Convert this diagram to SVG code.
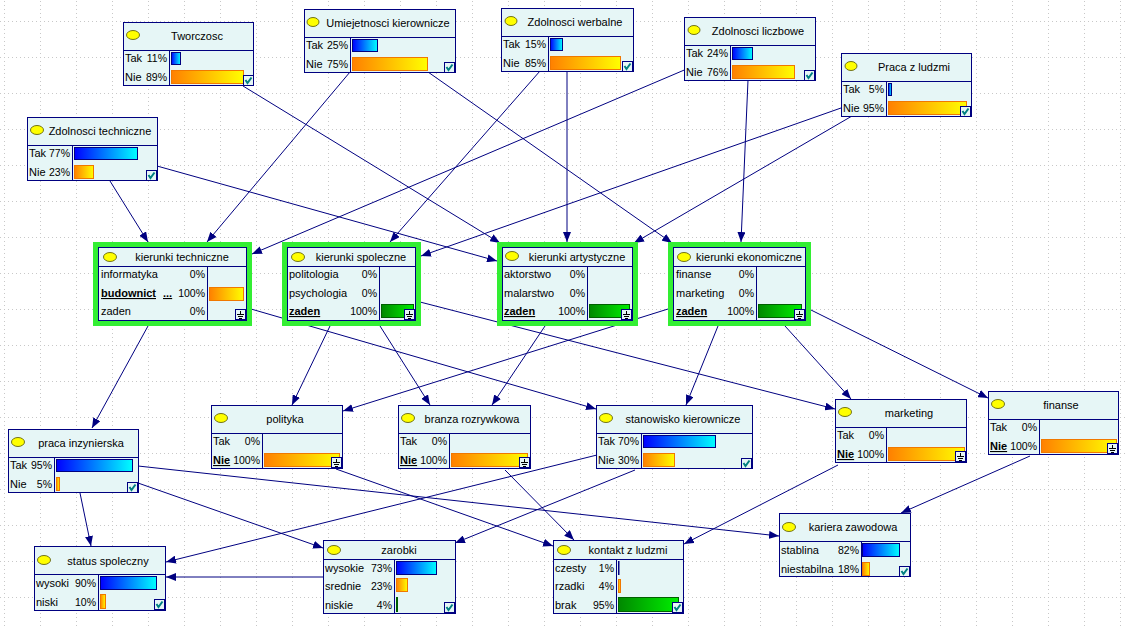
<svg xmlns="http://www.w3.org/2000/svg" width="1126" height="627" viewBox="0 0 1126 627">
<defs>
<style>
.box{fill:#E6F6F6;stroke:#000080;stroke-width:1}
.sep{stroke:#000080;stroke-width:1;fill:none}
.t{font-family:"Liberation Sans",Arial,sans-serif;font-size:11px;fill:#000}
.m{text-anchor:middle}
.r{text-anchor:end;font-size:10.5px}
.u{font-weight:bold;text-decoration:underline}
.hl{fill:none;stroke:#33EE33;stroke-width:5}
.el{fill:#FFFF00;stroke:#505000;stroke-width:0.8}
.bb{fill:url(#gb);stroke:#000080;stroke-width:1}
.bo{fill:url(#go);stroke:#F07800;stroke-width:1}
.bg{fill:url(#gg);stroke:#006000;stroke-width:1}
.ic{fill:#E6F6F6;stroke:#000080;stroke-width:1}
.ck{fill:none;stroke:#008080;stroke-width:2}
.gd{stroke:#000;stroke-width:1;fill:none}
.ln{stroke:#000080;stroke-width:1;fill:none;marker-end:url(#arr)}
</style>
<linearGradient id="gb" x1="0" y1="0" x2="1" y2="0"><stop offset="0" stop-color="#0000FF"/><stop offset="1" stop-color="#00FFFF"/></linearGradient>
<linearGradient id="go" x1="0" y1="0" x2="1" y2="0"><stop offset="0" stop-color="#FF8000"/><stop offset="1" stop-color="#FFFF00"/></linearGradient>
<linearGradient id="gg" x1="0" y1="0" x2="1" y2="0"><stop offset="0" stop-color="#008800"/><stop offset="1" stop-color="#00F000"/></linearGradient>
<marker id="arr" viewBox="0 0 10 8" refX="10" refY="4" markerWidth="10" markerHeight="8" orient="auto" markerUnits="userSpaceOnUse"><path d="M0,0 L10,4 L0,8 z" fill="#000080"/></marker>
<pattern id="grid" x="4" y="21" width="36" height="36" patternUnits="userSpaceOnUse"><path d="M0.5 0 V36 M0 0.5 H36" stroke="#C8C8C8" stroke-width="1" stroke-dasharray="1,3" fill="none"/></pattern>
<g id="chk"><rect class="ic" x="0.5" y="0.5" width="10" height="10"/><path class="ck" d="M2.5,5 L4.5,8 L8.5,2.5"/></g>
<g id="gnd"><rect class="ic" x="0.5" y="0.5" width="10" height="10"/><path class="gd" d="M5.5,2 V5 M2,5.5 H9 M3,7.5 H8 M4,9.5 H7"/></g>
</defs>
<rect width="1126" height="627" fill="#FFFFFF"/>
<rect width="1126" height="627" fill="url(#grid)"/>

<g id="connectors">
<line class="ln" x1="110" y1="181" x2="148" y2="242"/>
<line class="ln" x1="157" y1="166" x2="497" y2="261"/>
<line class="ln" x1="243" y1="86" x2="500" y2="243"/>
<line class="ln" x1="350" y1="72" x2="207" y2="242"/>
<line class="ln" x1="428" y1="72" x2="672" y2="243"/>
<line class="ln" x1="540" y1="71" x2="390" y2="242"/>
<line class="ln" x1="567" y1="71" x2="567" y2="242"/>
<line class="ln" x1="689" y1="68" x2="252" y2="254"/>
<line class="ln" x1="748" y1="80" x2="741" y2="242"/>
<line class="ln" x1="841" y1="108" x2="421" y2="256"/>
<line class="ln" x1="852" y1="116" x2="634" y2="243"/>
<line class="ln" x1="148" y1="326" x2="92" y2="428"/>
<line class="ln" x1="251" y1="309" x2="596" y2="409"/>
<line class="ln" x1="330" y1="326" x2="292" y2="405"/>
<line class="ln" x1="380" y1="326" x2="430" y2="405"/>
<line class="ln" x1="420" y1="302" x2="835" y2="409"/>
<line class="ln" x1="545" y1="326" x2="492" y2="405"/>
<line class="ln" x1="668" y1="309" x2="343" y2="411"/>
<line class="ln" x1="718" y1="326" x2="686" y2="405"/>
<line class="ln" x1="785" y1="326" x2="851" y2="399"/>
<line class="ln" x1="811" y1="310" x2="988" y2="398"/>
<line class="ln" x1="80" y1="493" x2="91" y2="546"/>
<line class="ln" x1="138" y1="466" x2="779" y2="536"/>
<line class="ln" x1="138" y1="483" x2="323" y2="548"/>
<line class="ln" x1="336" y1="469" x2="553" y2="546"/>
<line class="ln" x1="505" y1="470" x2="574" y2="540"/>
<line class="ln" x1="597" y1="455" x2="166" y2="562"/>
<line class="ln" x1="635" y1="470" x2="455" y2="543"/>
<line class="ln" x1="838" y1="465" x2="684" y2="544"/>
<line class="ln" x1="1030" y1="456" x2="901" y2="513"/>
<line class="ln" x1="323" y1="577" x2="166" y2="577"/>
</g>

<!-- Tworczosc -->
<g id="n-tworczosc">
<rect class="box" x="123.5" y="22.5" width="130" height="63"/>
<path class="sep" d="M123.5,50.5 H253.5 M169.5,50.5 V85.5"/>
<ellipse class="el" cx="133" cy="35" rx="6.5" ry="4.5"/>
<text class="t m" x="197" y="40">Tworczosc</text>
<text class="t" x="125" y="62">Tak</text><text class="t r" x="167" y="62">11%</text>
<text class="t" x="125" y="81">Nie</text><text class="t r" x="167" y="81">89%</text>
<rect class="bb" x="171.5" y="52.5" width="9" height="12"/>
<rect class="bo" x="171.5" y="70.5" width="72" height="13"/>
<use href="#chk" x="243" y="75"/>
</g>

<!-- Umiejetnosci kierownicze -->
<g id="n-umiejetnosci">
<rect class="box" x="304.5" y="9.5" width="151" height="63"/>
<path class="sep" d="M304.5,37.5 H455.5 M350.5,37.5 V72.5"/>
<ellipse class="el" cx="313" cy="22" rx="6" ry="4.5"/>
<text class="t m" x="388" y="27">Umiejetnosci kierownicze</text>
<text class="t" x="306" y="49">Tak</text><text class="t r" x="348" y="49">25%</text>
<text class="t" x="306" y="68">Nie</text><text class="t r" x="348" y="68">75%</text>
<rect class="bb" x="352.5" y="39.5" width="25" height="12"/>
<rect class="bo" x="352.5" y="57.5" width="75" height="13"/>
<use href="#chk" x="444" y="62"/>
</g>

<!-- Zdolnosci werbalne -->
<g id="n-werbalne">
<rect class="box" x="501.5" y="8.5" width="132" height="63"/>
<path class="sep" d="M501.5,36.5 H633.5 M548.5,36.5 V71.5"/>
<ellipse class="el" cx="511" cy="21" rx="6" ry="4.5"/>
<text class="t m" x="575" y="26">Zdolnosci werbalne</text>
<text class="t" x="503" y="48">Tak</text><text class="t r" x="546" y="48">15%</text>
<text class="t" x="503" y="67">Nie</text><text class="t r" x="546" y="67">85%</text>
<rect class="bb" x="550.5" y="38.5" width="12" height="12"/>
<rect class="bo" x="550.5" y="56.5" width="70" height="13"/>
<use href="#chk" x="622" y="61"/>
</g>

<!-- Zdolnosci liczbowe -->
<g id="n-liczbowe">
<rect class="box" x="684.5" y="17.5" width="131" height="63"/>
<path class="sep" d="M684.5,45.5 H815.5 M730.5,45.5 V80.5"/>
<ellipse class="el" cx="694" cy="30" rx="6" ry="4.5"/>
<text class="t m" x="758" y="35">Zdolnosci liczbowe</text>
<text class="t" x="686" y="57">Tak</text><text class="t r" x="728" y="57">24%</text>
<text class="t" x="686" y="76">Nie</text><text class="t r" x="728" y="76">76%</text>
<rect class="bb" x="732.5" y="47.5" width="20" height="12"/>
<rect class="bo" x="732.5" y="65.5" width="62" height="13"/>
<use href="#chk" x="804" y="70"/>
</g>

<!-- Praca z ludzmi -->
<g id="n-praca-z-ludzmi">
<rect class="box" x="841.5" y="53.5" width="130" height="63"/>
<path class="sep" d="M841.5,81.5 H971.5 M886.5,81.5 V116.5"/>
<ellipse class="el" cx="851" cy="66" rx="6" ry="4.5"/>
<text class="t m" x="914" y="71">Praca z ludzmi</text>
<text class="t" x="843" y="93">Tak</text><text class="t r" x="884" y="93">5%</text>
<text class="t" x="843" y="112">Nie</text><text class="t r" x="884" y="112">95%</text>
<rect class="bb" x="888.5" y="83.5" width="3" height="12"/>
<rect class="bo" x="888.5" y="101.5" width="78" height="13"/>
<use href="#chk" x="960" y="106"/>
</g>

<!-- Zdolnosci techniczne -->
<g id="n-zdolnosci-techniczne">
<rect class="box" x="27.5" y="117.5" width="130" height="63"/>
<path class="sep" d="M27.5,145.5 H157.5 M72.5,145.5 V180.5"/>
<ellipse class="el" cx="37" cy="130" rx="6.5" ry="4.5"/>
<text class="t m" x="100" y="135">Zdolnosci techniczne</text>
<text class="t" x="29" y="157">Tak</text><text class="t r" x="70" y="157">77%</text>
<text class="t" x="29" y="176">Nie</text><text class="t r" x="70" y="176">23%</text>
<rect class="bb" x="74.5" y="147.5" width="63" height="12"/>
<rect class="bo" x="74.5" y="165.5" width="19" height="13"/>
<use href="#chk" x="146" y="170"/>
</g>

<!-- kierunki techniczne -->
<g id="n-kierunki-techniczne">
<rect class="hl" x="95.5" y="244.5" width="154" height="79"/>
<rect class="box" x="98.5" y="247.5" width="148" height="73"/>
<path class="sep" d="M98.5,266.5 H246.5 M207.5,266.5 V320.5"/>
<ellipse class="el" cx="110" cy="257" rx="6.5" ry="4.5"/>
<text class="t m" x="182" y="261">kierunki techniczne</text>
<text class="t" x="101" y="278">informatyka</text><text class="t r" x="205" y="278">0%</text>
<text class="t u" x="101" y="297">budownict</text><text class="t u" x="163" y="297">...</text><text class="t r" x="205" y="297">100%</text>
<text class="t" x="101" y="315">zaden</text><text class="t r" x="205" y="315">0%</text>
<rect class="bo" x="209.5" y="287.5" width="34" height="13"/>
<use href="#gnd" x="235" y="309"/>
</g>

<!-- kierunki spoleczne -->
<g id="n-kierunki-spoleczne">
<rect class="hl" x="284.5" y="244.5" width="134" height="79"/>
<rect class="box" x="287.5" y="247.5" width="128" height="73"/>
<path class="sep" d="M287.5,266.5 H415.5 M379.5,266.5 V320.5"/>
<ellipse class="el" cx="298" cy="257" rx="6.5" ry="4.5"/>
<text class="t m" x="361" y="261">kierunki spoleczne</text>
<text class="t" x="289" y="278">politologia</text><text class="t r" x="377" y="278">0%</text>
<text class="t" x="289" y="297">psychologia</text><text class="t r" x="377" y="297">0%</text>
<text class="t u" x="289" y="315">zaden</text><text class="t r" x="377" y="315">100%</text>
<rect class="bg" x="381.5" y="304.5" width="32" height="13"/>
<use href="#gnd" x="404" y="309"/>
</g>

<!-- kierunki artystyczne -->
<g id="n-kierunki-artystyczne">
<rect class="hl" x="499.5" y="244.5" width="136" height="79"/>
<rect class="box" x="502.5" y="247.5" width="130" height="73"/>
<path class="sep" d="M502.5,266.5 H632.5 M587.5,266.5 V320.5"/>
<ellipse class="el" cx="512" cy="256" rx="6.5" ry="4.5"/>
<text class="t m" x="577" y="261">kierunki artystyczne</text>
<text class="t" x="504" y="278">aktorstwo</text><text class="t r" x="585" y="278">0%</text>
<text class="t" x="504" y="297">malarstwo</text><text class="t r" x="585" y="297">0%</text>
<text class="t u" x="504" y="315">zaden</text><text class="t r" x="585" y="315">100%</text>
<rect class="bg" x="589.5" y="304.5" width="40" height="13"/>
<use href="#gnd" x="621" y="309"/>
</g>

<!-- kierunki ekonomiczne -->
<g id="n-kierunki-ekonomiczne">
<rect class="hl" x="670.5" y="244.5" width="138" height="79"/>
<rect class="box" x="673.5" y="247.5" width="132" height="73"/>
<path class="sep" d="M673.5,266.5 H805.5 M756.5,266.5 V320.5"/>
<ellipse class="el" cx="684" cy="257" rx="6.5" ry="4.5"/>
<text class="t m" x="749" y="261">kierunki ekonomiczne</text>
<text class="t" x="676" y="278">finanse</text><text class="t r" x="754" y="278">0%</text>
<text class="t" x="676" y="297">marketing</text><text class="t r" x="754" y="297">0%</text>
<text class="t u" x="676" y="315">zaden</text><text class="t r" x="754" y="315">100%</text>
<rect class="bg" x="758.5" y="304.5" width="43" height="13"/>
<use href="#gnd" x="794" y="309"/>
</g>

<!-- praca inzynierska -->
<g id="n-praca-inzynierska">
<rect class="box" x="8.5" y="429.5" width="130" height="63"/>
<path class="sep" d="M8.5,457.5 H138.5 M54.5,457.5 V492.5"/>
<ellipse class="el" cx="18" cy="442" rx="6.5" ry="4.5"/>
<text class="t m" x="81" y="447">praca inzynierska</text>
<text class="t" x="10" y="469">Tak</text><text class="t r" x="52" y="469">95%</text>
<text class="t" x="10" y="488">Nie</text><text class="t r" x="52" y="488">5%</text>
<rect class="bb" x="56.5" y="459.5" width="76" height="12"/>
<rect class="bo" x="56.5" y="477.5" width="3" height="13"/>
<use href="#chk" x="127" y="482"/>
</g>

<!-- polityka -->
<g id="n-polityka">
<rect class="box" x="211.5" y="405.5" width="131" height="63"/>
<path class="sep" d="M211.5,433.5 H342.5 M262.5,433.5 V468.5"/>
<ellipse class="el" cx="221" cy="418" rx="6.5" ry="4.5"/>
<text class="t m" x="285" y="423">polityka</text>
<text class="t" x="213" y="445">Tak</text><text class="t r" x="260" y="445">0%</text>
<text class="t u" x="213" y="464">Nie</text><text class="t r" x="260" y="464">100%</text>
<rect class="bo" x="264.5" y="453.5" width="75" height="13"/>
<use href="#gnd" x="331" y="457"/>
</g>

<!-- branza rozrywkowa -->
<g id="n-branza">
<rect class="box" x="398.5" y="405.5" width="132" height="63"/>
<path class="sep" d="M398.5,433.5 H530.5 M449.5,433.5 V468.5"/>
<ellipse class="el" cx="408" cy="418" rx="6.5" ry="4.5"/>
<text class="t m" x="472" y="423">branza rozrywkowa</text>
<text class="t" x="400" y="445">Tak</text><text class="t r" x="447" y="445">0%</text>
<text class="t u" x="400" y="464">Nie</text><text class="t r" x="447" y="464">100%</text>
<rect class="bo" x="451.5" y="453.5" width="76" height="13"/>
<use href="#gnd" x="519" y="457"/>
</g>

<!-- stanowisko kierownicze -->
<g id="n-stanowisko">
<rect class="box" x="596.5" y="405.5" width="156" height="63"/>
<path class="sep" d="M596.5,433.5 H752.5 M641.5,433.5 V468.5"/>
<ellipse class="el" cx="606" cy="418" rx="6.5" ry="4.5"/>
<text class="t m" x="683" y="423">stanowisko kierownicze</text>
<text class="t" x="598" y="445">Tak</text><text class="t r" x="639" y="445">70%</text>
<text class="t" x="598" y="464">Nie</text><text class="t r" x="639" y="464">30%</text>
<rect class="bb" x="643.5" y="435.5" width="72" height="12"/>
<rect class="bo" x="643.5" y="453.5" width="31" height="13"/>
<use href="#chk" x="741" y="458"/>
</g>

<!-- marketing -->
<g id="n-marketing">
<rect class="box" x="835.5" y="399.5" width="131" height="63"/>
<path class="sep" d="M835.5,427.5 H966.5 M886.5,427.5 V462.5"/>
<ellipse class="el" cx="845" cy="412" rx="6.5" ry="4.5"/>
<text class="t m" x="909" y="417">marketing</text>
<text class="t" x="837" y="439">Tak</text><text class="t r" x="884" y="439">0%</text>
<text class="t u" x="837" y="458">Nie</text><text class="t r" x="884" y="458">100%</text>
<rect class="bo" x="888.5" y="447.5" width="76" height="13"/>
<use href="#gnd" x="955" y="451"/>
</g>

<!-- finanse -->
<g id="n-finanse">
<rect class="box" x="988.5" y="391.5" width="130" height="63"/>
<path class="sep" d="M988.5,419.5 H1118.5 M1039.5,419.5 V454.5"/>
<ellipse class="el" cx="998" cy="404" rx="6.5" ry="4.5"/>
<text class="t m" x="1061" y="409">finanse</text>
<text class="t" x="990" y="431">Tak</text><text class="t r" x="1037" y="431">0%</text>
<text class="t u" x="990" y="450">Nie</text><text class="t r" x="1037" y="450">100%</text>
<rect class="bo" x="1041.5" y="439.5" width="75" height="13"/>
<use href="#gnd" x="1107" y="443"/>
</g>

<!-- status spoleczny -->
<g id="n-status">
<rect class="box" x="34.5" y="546.5" width="131" height="64"/>
<path class="sep" d="M34.5,574.5 H165.5 M98.5,574.5 V610.5"/>
<ellipse class="el" cx="44" cy="560" rx="6.5" ry="4.5"/>
<text class="t m" x="108" y="565">status spoleczny</text>
<text class="t" x="36" y="587">wysoki</text><text class="t r" x="96" y="587">90%</text>
<text class="t" x="36" y="606">niski</text><text class="t r" x="96" y="606">10%</text>
<rect class="bb" x="100.5" y="576.5" width="56" height="13"/>
<rect class="bo" x="100.5" y="594.5" width="5" height="14"/>
<use href="#chk" x="154" y="599"/>
</g>

<!-- zarobki -->
<g id="n-zarobki">
<rect class="box" x="323.5" y="540.5" width="132" height="73"/>
<path class="sep" d="M323.5,559.5 H455.5 M394.5,559.5 V613.5"/>
<ellipse class="el" cx="334" cy="550" rx="6.5" ry="4.5"/>
<text class="t m" x="399" y="554">zarobki</text>
<text class="t" x="325" y="572">wysokie</text><text class="t r" x="392" y="572">73%</text>
<text class="t" x="325" y="590">srednie</text><text class="t r" x="392" y="590">23%</text>
<text class="t" x="325" y="609">niskie</text><text class="t r" x="392" y="609">4%</text>
<rect class="bb" x="396.5" y="561.5" width="40" height="13"/>
<rect class="bo" x="396.5" y="578.5" width="11" height="13"/>
<rect class="bg" x="396.5" y="597.5" width="1" height="14"/>
<use href="#chk" x="444" y="602"/>
</g>

<!-- kontakt z ludzmi -->
<g id="n-kontakt">
<rect class="box" x="553.5" y="540.5" width="130" height="73"/>
<path class="sep" d="M553.5,559.5 H683.5 M616.5,559.5 V613.5"/>
<ellipse class="el" cx="564" cy="550" rx="6.5" ry="4.5"/>
<text class="t m" x="628" y="554">kontakt z ludzmi</text>
<text class="t" x="555" y="572">czesty</text><text class="t r" x="614" y="572">1%</text>
<text class="t" x="555" y="590">rzadki</text><text class="t r" x="614" y="590">4%</text>
<text class="t" x="555" y="609">brak</text><text class="t r" x="614" y="609">95%</text>
<rect class="bb" x="618.5" y="561.5" width="0.5" height="13"/>
<rect class="bo" x="618.5" y="579.5" width="2" height="13"/>
<rect class="bg" x="618.5" y="597.5" width="60" height="14"/>
<use href="#chk" x="672" y="602"/>
</g>

<!-- kariera zawodowa -->
<g id="n-kariera">
<rect class="box" x="779.5" y="513.5" width="131" height="63"/>
<path class="sep" d="M779.5,541.5 H910.5 M861.5,541.5 V576.5"/>
<ellipse class="el" cx="789" cy="527" rx="6.5" ry="4.5"/>
<text class="t m" x="853" y="531">kariera zawodowa</text>
<text class="t" x="781" y="554">stablina</text><text class="t r" x="859" y="554">82%</text>
<text class="t" x="781" y="573">niestabilna</text><text class="t r" x="859" y="573">18%</text>
<rect class="bb" x="862.5" y="543.5" width="37" height="13"/>
<rect class="bo" x="862.5" y="562.5" width="7" height="13"/>
<use href="#chk" x="899" y="566"/>
</g>
</svg>
